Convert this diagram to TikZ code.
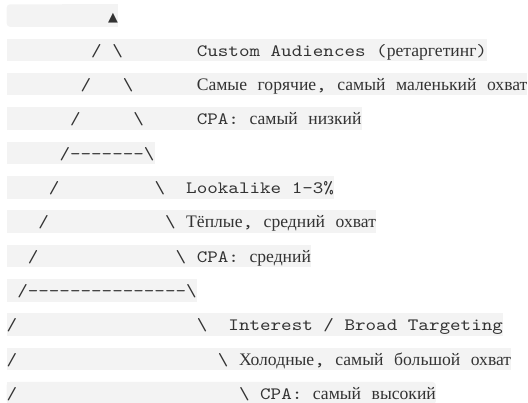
\documentclass[tikz,border=0pt]{standalone}
\usepackage{fontspec}
\setmonofont{lmmono10-regular}[Extension=.otf, FakeStretch=1.16, Ligatures=TeXOff]
\newfontfamily\cyfont{Liberation Serif}
\newfontfamily\trifont{DejaVu Sans}
\usetikzlibrary{positioning, backgrounds}

\definecolor{codebg}{HTML}{F3F3F3}
\definecolor{codetext}{HTML}{333333}
\newlength\cw
\setlength\cw{7.921pt}
\newcommand\pad[1]{\hspace*{#1\cw}}
\newcommand\bsl{\textbackslash}
\newcommand\cy[1]{{\cyfont\fontsize{13.2pt}{16pt}\selectfont #1}}

\begin{document}
\begin{tikzpicture}[
    x=0.75pt, y=-0.75pt,
    ln/.style={fill=codebg, text=codetext, inner sep=0pt, outer sep=0pt,
      text height=13.2pt, text depth=3.7pt,
      font=\ttfamily\fontsize{13pt}{16pt}\selectfont\frenchspacing},
    lnplain/.style={ln, fill=none},
    node distance=8.85pt
  ]
    \useasboundingbox (0,0) rectangle (528,403);
    % pyramid, one node per line
    \node[lnplain, anchor=north west] (l1) at (6.7,4.3)
      {\pad{9.6}{\trifont\fontsize{9.6pt}{12pt}\selectfont ▲}};
    \node[ln, below=of l1.south west, anchor=north west] (l2)
      {\pad{8}/\pad{1}\bsl\pad{7}Custom Audiences (\cy{ретаргетинг})};
    \node[ln, below=of l2.south west, anchor=north west] (l3)
      {\pad{7}/\pad{3}\bsl\pad{6}\cy{Самые} \cy{горячие}, \cy{самый} \cy{маленький} \cy{охват}};
    \node[ln, below=of l3.south west, anchor=north west] (l4)
      {\pad{6}/\pad{5}\bsl\pad{5}CPA: \cy{самый} \cy{низкий}};
    \node[ln, below=of l4.south west, anchor=north west] (l5)
      {\pad{5}/-------\bsl};
    \node[ln, below=of l5.south west, anchor=north west] (l6)
      {\pad{4}/\pad{9}\bsl\pad{2}Lookalike 1-3\%};
    \node[ln, below=of l6.south west, anchor=north west] (l7)
      {\pad{3}/\pad{11}\bsl\pad{1}\cy{Тёплые}, \cy{средний} \cy{охват}};
    \node[ln, below=of l7.south west, anchor=north west] (l8)
      {\pad{2}/\pad{13}\bsl\pad{1}CPA: \cy{средний}};
    \node[ln, below=of l8.south west, anchor=north west] (l9)
      {\pad{1}/---------------\bsl};
    \node[ln, below=of l9.south west, anchor=north west] (l10)
      {/\pad{17}\bsl\pad{2}Interest / Broad Targeting};
    \node[ln, below=of l10.south west, anchor=north west] (l11)
      {/\pad{19}\bsl\pad{1}\cy{Холодные}, \cy{самый} \cy{большой} \cy{охват}};
    \node[lnplain, below=of l11.south west, anchor=north west] (l12)
      {/\pad{21}\bsl\pad{1}CPA: \cy{самый} \cy{высокий}};
    % rounded ends of the block
    \begin{scope}[on background layer]
      \fill[codebg, rounded corners=2.5pt] (l1.north west) rectangle (l1.south east);
      \fill[codebg] (l1.north) rectangle (l1.south east);
      \fill[codebg, rounded corners=2.5pt] (l12.north west) rectangle (l12.south east);
      \fill[codebg] (l12.north west) rectangle (l12.south);
    \end{scope}
\end{tikzpicture}
\end{document}
